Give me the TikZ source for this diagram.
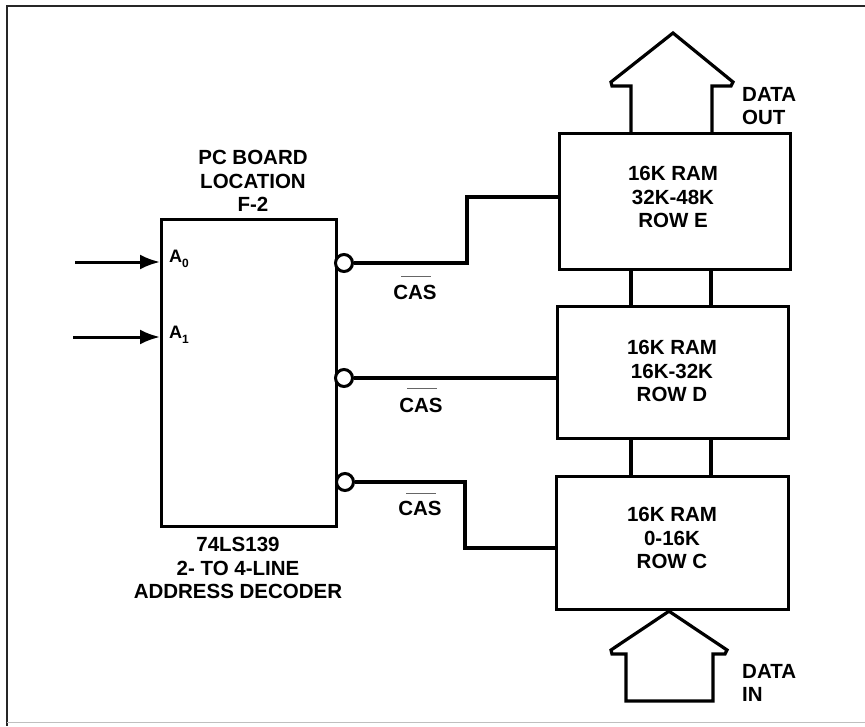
\documentclass[tikz,border=0pt]{standalone}
\usepackage{fontspec}
\setmainfont{Liberation Sans}
\usetikzlibrary{arrows.meta}
\begin{document}
\begin{tikzpicture}[x=1pt,y=-1pt,
  box/.style={draw, line width=3.2pt, inner sep=0pt, anchor=north west},
  wire/.style={line width=3.2pt, line join=miter},
  bubble/.style={draw, circle, line width=3pt, minimum size=17pt, inner sep=0pt, fill=white},
  inarrow/.style={line width=3pt, -{Latex[length=20pt,width=15pt]}},
  lbl/.style={font=\fontsize{20.5}{23.5}\selectfont\bfseries, align=center, inner sep=0pt},
  ramtxt/.style={font=\fontsize{20.5}{23.5}\selectfont\bfseries, align=center},
  overl/.style={line width=1pt, black!60}
]
\useasboundingbox (0,0) rectangle (865,726);
% frame
\draw[line width=2pt, black!85] (865,6) -- (7,6) -- (7,726);
\draw[line width=0.8pt, black!25] (7,722) -- (865,722);

% decoder
\node[box, minimum width=175pt, minimum height=307pt] (dec) at (160,218) {};
\node[lbl] (title) at (253,181) {PC BOARD\\LOCATION\\F-2};
\node[lbl] (sub) at (238,568) {74LS139\\2- TO 4-LINE\\ADDRESS DECODER};

% inputs
\coordinate (a0s) at (75,262);
\coordinate (a1s) at (73,337);
\draw[inarrow] (a0s) -- (dec.west |- a0s);
\draw[inarrow] (a1s) -- (dec.west |- a1s);
\node[anchor=west, inner sep=0pt, font=\fontsize{18}{18}\selectfont\bfseries] (a0) at (169,259) {A\raisebox{-0.3em}{\fontsize{12}{12}\selectfont 0}};
\node[anchor=west, inner sep=0pt, font=\fontsize{18}{18}\selectfont\bfseries] (a1) at (169,335) {A\raisebox{-0.3em}{\fontsize{12}{12}\selectfont 1}};

% RAM boxes
\node[box, minimum width=231pt, minimum height=136pt] (ramE) at (558,132) {};
\node[box, minimum width=231pt, minimum height=132pt] (ramD) at (556,305) {};
\node[box, minimum width=232pt, minimum height=133pt] (ramC) at (555,475) {};
\node[ramtxt] (tE) at (673,197) {16K RAM\\32K-48K\\ROW E};
\node[ramtxt] (tD) at (672,371) {16K RAM\\16K-32K\\ROW D};
\node[ramtxt] (tC) at (672,538) {16K RAM\\0-16K\\ROW C};

% links between RAM boxes
\draw[wire] (631,0 |- ramE.south) -- (631,0 |- ramD.north);
\draw[wire] (711,0 |- ramE.south) -- (711,0 |- ramD.north);
\draw[wire] (631,0 |- ramD.south) -- (631,0 |- ramC.north);
\draw[wire] (711,0 |- ramD.south) -- (711,0 |- ramC.north);

% bubbles and outputs
\node[bubble] (b1) at (344,263) {};
\node[bubble] (b2) at (344,378) {};
\node[bubble] (b3) at (345,482) {};
\draw[wire] (b1.east) -- (467,263) -- (467,197) -- (ramE.west |- 0,197);
\draw[wire] (b2.east) -- (ramD.west |- b2);
\draw[wire] (b3.east) -- (465,482) -- (465,548) -- (ramC.west |- 0,548);

% CAS labels
\node[lbl] (cas1) at (415,292) {CAS};
\node[lbl] (cas2) at (421,405) {CAS};
\node[lbl] (cas3) at (420,508) {CAS};
\draw[overl] ([xshift=-14pt,yshift=16pt]cas1.center) -- ([xshift=16pt,yshift=16pt]cas1.center);
\draw[overl] ([xshift=-14pt,yshift=17pt]cas2.center) -- ([xshift=16pt,yshift=17pt]cas2.center);
\draw[overl] ([xshift=-14pt,yshift=15pt]cas3.center) -- ([xshift=16pt,yshift=15pt]cas3.center);

% data out arrow
\draw[wire] (631,0 |- ramE.north) -- (631,86) -- (612,86) -- (611,82) -- (673,33) -- (733,82) -- (731,86) -- (712,86) -- (712,0 |- ramE.north);
\node[lbl, align=left, anchor=west] (dout) at (742,106) {DATA\\OUT};

% data in arrow
\draw[wire] (626,701) -- (626,654) -- (612,654) -- (611,650) -- (669,0 |- ramC.south) -- (727,650) -- (725,654) -- (713,654) -- (713,701) -- cycle;
\node[lbl, align=left, anchor=west] (din) at (742,683) {DATA\\IN};
\end{tikzpicture}
\end{document}
